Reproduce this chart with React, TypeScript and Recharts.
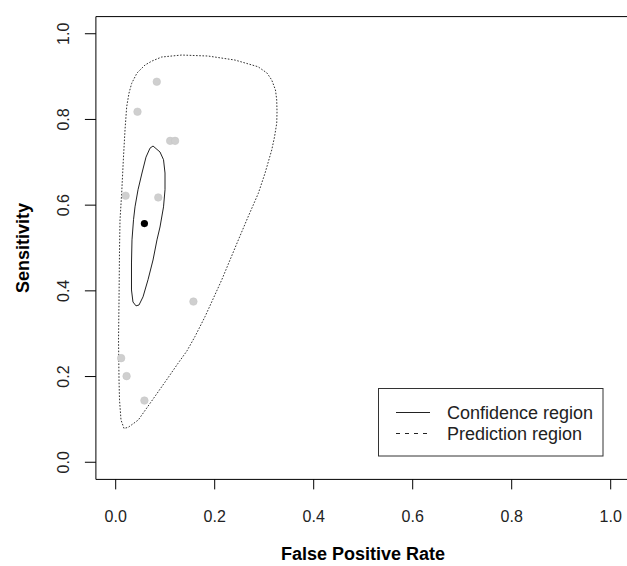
import React from 'react';
import { ComposedChart, XAxis, YAxis, Scatter, ReferenceArea } from 'recharts';

// Study estimates (false positive rate, sensitivity)
const studyFpr = [0.083, 0.044, 0.110, 0.120, 0.020, 0.086, 0.157, 0.011, 0.022, 0.058];
const studySens = [0.888, 0.818, 0.750, 0.750, 0.622, 0.618, 0.375, 0.243, 0.201, 0.144];

// Summary point
const summaryFpr = [0.058];
const summarySens = [0.557];

// Confidence region outline
const confFpr = [0.0754, 0.0895, 0.0966, 0.0996, 0.0996, 0.0966, 0.0895, 0.0834, 0.0754, 0.0653, 0.0552, 0.0471, 0.0410, 0.0349, 0.0319, 0.0319, 0.0329, 0.0360, 0.0390, 0.0451, 0.0531, 0.0612, 0.0693, 0.0754];
const confSens = [0.738, 0.724, 0.706, 0.675, 0.636, 0.596, 0.549, 0.519, 0.472, 0.426, 0.386, 0.367, 0.365, 0.374, 0.402, 0.465, 0.519, 0.566, 0.596, 0.636, 0.675, 0.712, 0.733, 0.738];

// Prediction region outline
const predFpr = [0.0168, 0.0107, 0.0077, 0.0067, 0.0057, 0.0067, 0.0077, 0.0087, 0.0121, 0.0154, 0.0188, 0.0222, 0.0269, 0.0323, 0.0430, 0.0592, 0.0733, 0.0929, 0.1333, 0.1865, 0.2410, 0.2875, 0.3057, 0.3152, 0.3228, 0.3253, 0.3259, 0.3253, 0.3208, 0.3152, 0.3016, 0.2881, 0.2673, 0.2477, 0.2141, 0.1804, 0.1600, 0.1440, 0.1260, 0.1026, 0.0766, 0.0457, 0.0255, 0.0168];
const predSens = [0.0789, 0.0987, 0.1454, 0.1920, 0.2853, 0.3786, 0.4953, 0.5653, 0.6283, 0.7053, 0.7753, 0.8297, 0.8616, 0.8843, 0.9083, 0.9270, 0.9363, 0.9457, 0.9503, 0.9480, 0.9386, 0.9230, 0.9083, 0.8920, 0.8687, 0.8454, 0.8174, 0.7910, 0.7590, 0.7287, 0.6743, 0.6276, 0.5723, 0.5187, 0.4253, 0.3397, 0.2930, 0.2600, 0.2310, 0.1920, 0.1493, 0.0987, 0.0817, 0.0789];

const ticks = [0, 0.2, 0.4, 0.6, 0.8, 1.0];
const legendLabels = ['Confidence region', 'Prediction region'];
const xTitle = 'False Positive Rate';
const yTitle = 'Sensitivity';

const zip = (xs: number[], ys: number[]) => xs.map((x, i) => ({ x, y: ys[i] }));
const studies = zip(studyFpr, studySens);
const summary = zip(summaryFpr, summarySens);
const conf = zip(confFpr, confSens);
const pred = zip(predFpr, predSens);

const FONT = '"Liberation Sans", Arial, sans-serif';
const TXT = '#222';

const XTick = (props: any) => {
  const { x, payload } = props;
  return (
    <text x={x} y={521.5} textAnchor="middle" fontSize={16} fill={TXT} fontFamily={FONT}>
      {Number(payload.value).toFixed(1)}
    </text>
  );
};

const YTick = (props: any) => {
  const { y, payload } = props;
  const lx = 68.7;
  return (
    <text x={lx} y={y} transform={`rotate(-90 ${lx} ${y})`} textAnchor="middle" fontSize={16} fill={TXT} fontFamily={FONT}>
      {Number(payload.value).toFixed(1)}
    </text>
  );
};

const Empty = () => <g />;

const GrayDot = (props: any) => {
  const { cx, cy } = props;
  return <circle cx={cx} cy={cy} r={3.8} fill="#cfcfcf" stroke="#c4c4c4" strokeWidth={0.5} />;
};

const BlackDot = (props: any) => {
  const { cx, cy } = props;
  return <circle cx={cx} cy={cy} r={3.6} fill="#000" />;
};

export default function App() {
  return (
    <div style={{ position: 'absolute', left: 0, top: 0, width: 627, height: 566, overflow: 'hidden', background: '#fff' }}>
      <ComposedChart width={640} height={566} margin={{ top: 16.6, right: 9.5, bottom: 0, left: 0 }}>
        <XAxis
          type="number"
          dataKey="x"
          domain={[-0.04, 1.04]}
          ticks={ticks}
          allowDataOverflow
          height={86.6}
          tickSize={10}
          axisLine={false}
          tickLine={{ stroke: '#000' }}
          tick={<XTick />}
        />
        <YAxis
          type="number"
          dataKey="y"
          domain={[-0.04, 1.04]}
          ticks={ticks}
          allowDataOverflow
          width={95.9}
          tickSize={11}
          axisLine={false}
          tickLine={{ stroke: '#000' }}
          tick={<YTick />}
        />
        <ReferenceArea x1={-0.04} x2={1.04} y1={-0.04} y2={1.04} fill="none" stroke="#000" strokeWidth={1} />
        <Scatter data={pred} line={{ stroke: '#333', strokeWidth: 1, strokeDasharray: '1.6 1.6' }} lineJointType="linear" shape={<Empty />} isAnimationActive={false} />
        <Scatter data={studies} shape={<GrayDot />} isAnimationActive={false} />
        <Scatter data={conf} line={{ stroke: '#222', strokeWidth: 1 }} lineJointType="linear" shape={<Empty />} isAnimationActive={false} />
        <Scatter data={summary} shape={<BlackDot />} isAnimationActive={false} />
      </ComposedChart>
      <svg width={627} height={566} style={{ position: 'absolute', left: 0, top: 0, pointerEvents: 'none' }}>
        <text x={29} y={248} transform="rotate(-90 29 248)" textAnchor="middle" fontSize={18} fontWeight="bold" fill="#000" fontFamily={FONT}>
          {yTitle}
        </text>
        <text x={363} y={560} textAnchor="middle" fontSize={18} fontWeight="bold" fill="#000" fontFamily={FONT}>
          {xTitle}
        </text>
        <rect x={378.5} y={388.5} width={224.5} height={67.5} fill="#fff" stroke="#333" strokeWidth={1} />
        <line x1={396} x2={430} y1={412.5} y2={412.5} stroke="#222" strokeWidth={1} />
        <line x1={396} x2={430} y1={433.5} y2={433.5} stroke="#222" strokeWidth={1} strokeDasharray="4 5" />
        <text x={447} y={419} fontSize={18} fill={TXT} fontFamily={FONT}>{legendLabels[0]}</text>
        <text x={447} y={440} fontSize={18} fill={TXT} fontFamily={FONT}>{legendLabels[1]}</text>
      </svg>
    </div>
  );
}
